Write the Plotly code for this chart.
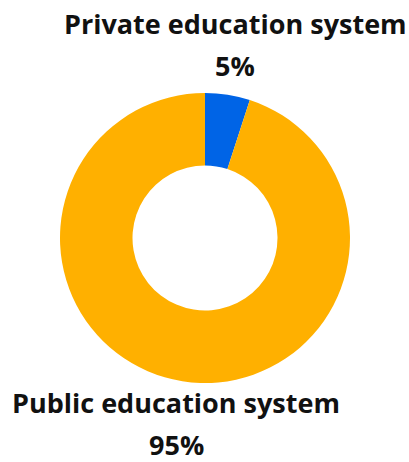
import plotly.graph_objects as go

categories = ["Private education system", "Public education system"]
values = [5, 95]
colors = ["#0064E6", "#FFB000"]

W, H = 409, 462
fig = go.Figure(go.Pie(
    labels=categories, values=values, hole=0.5, sort=False,
    direction="clockwise", rotation=0,
    marker=dict(colors=colors, line=dict(width=0)),
    textinfo="none", hoverinfo="label+percent", showlegend=False,
    domain=dict(x=[60/W, 350/W], y=[1-383/H, 1-93/H]),
))

font = dict(family="Open Sans, sans-serif", size=27, color="#111111", weight="bold")
ann = [
    (235, 23, categories[0]),
    (235, 66, f"{values[0]}%"),
    (176, 402, categories[1]),
    (176, 444, f"{values[1]}%"),
]
for x, y, t in ann:
    fig.add_annotation(x=x/W, y=1-y/H, xref="paper", yref="paper", text=f"<b>{t}</b>",
                       showarrow=False, font=font, xanchor="center", yanchor="middle",
                       borderpad=0, borderwidth=0)

fig.update_layout(width=W, height=H, margin=dict(l=0, r=0, t=0, b=0),
                  paper_bgcolor="white", plot_bgcolor="white")
fig.write_html("out.html")
